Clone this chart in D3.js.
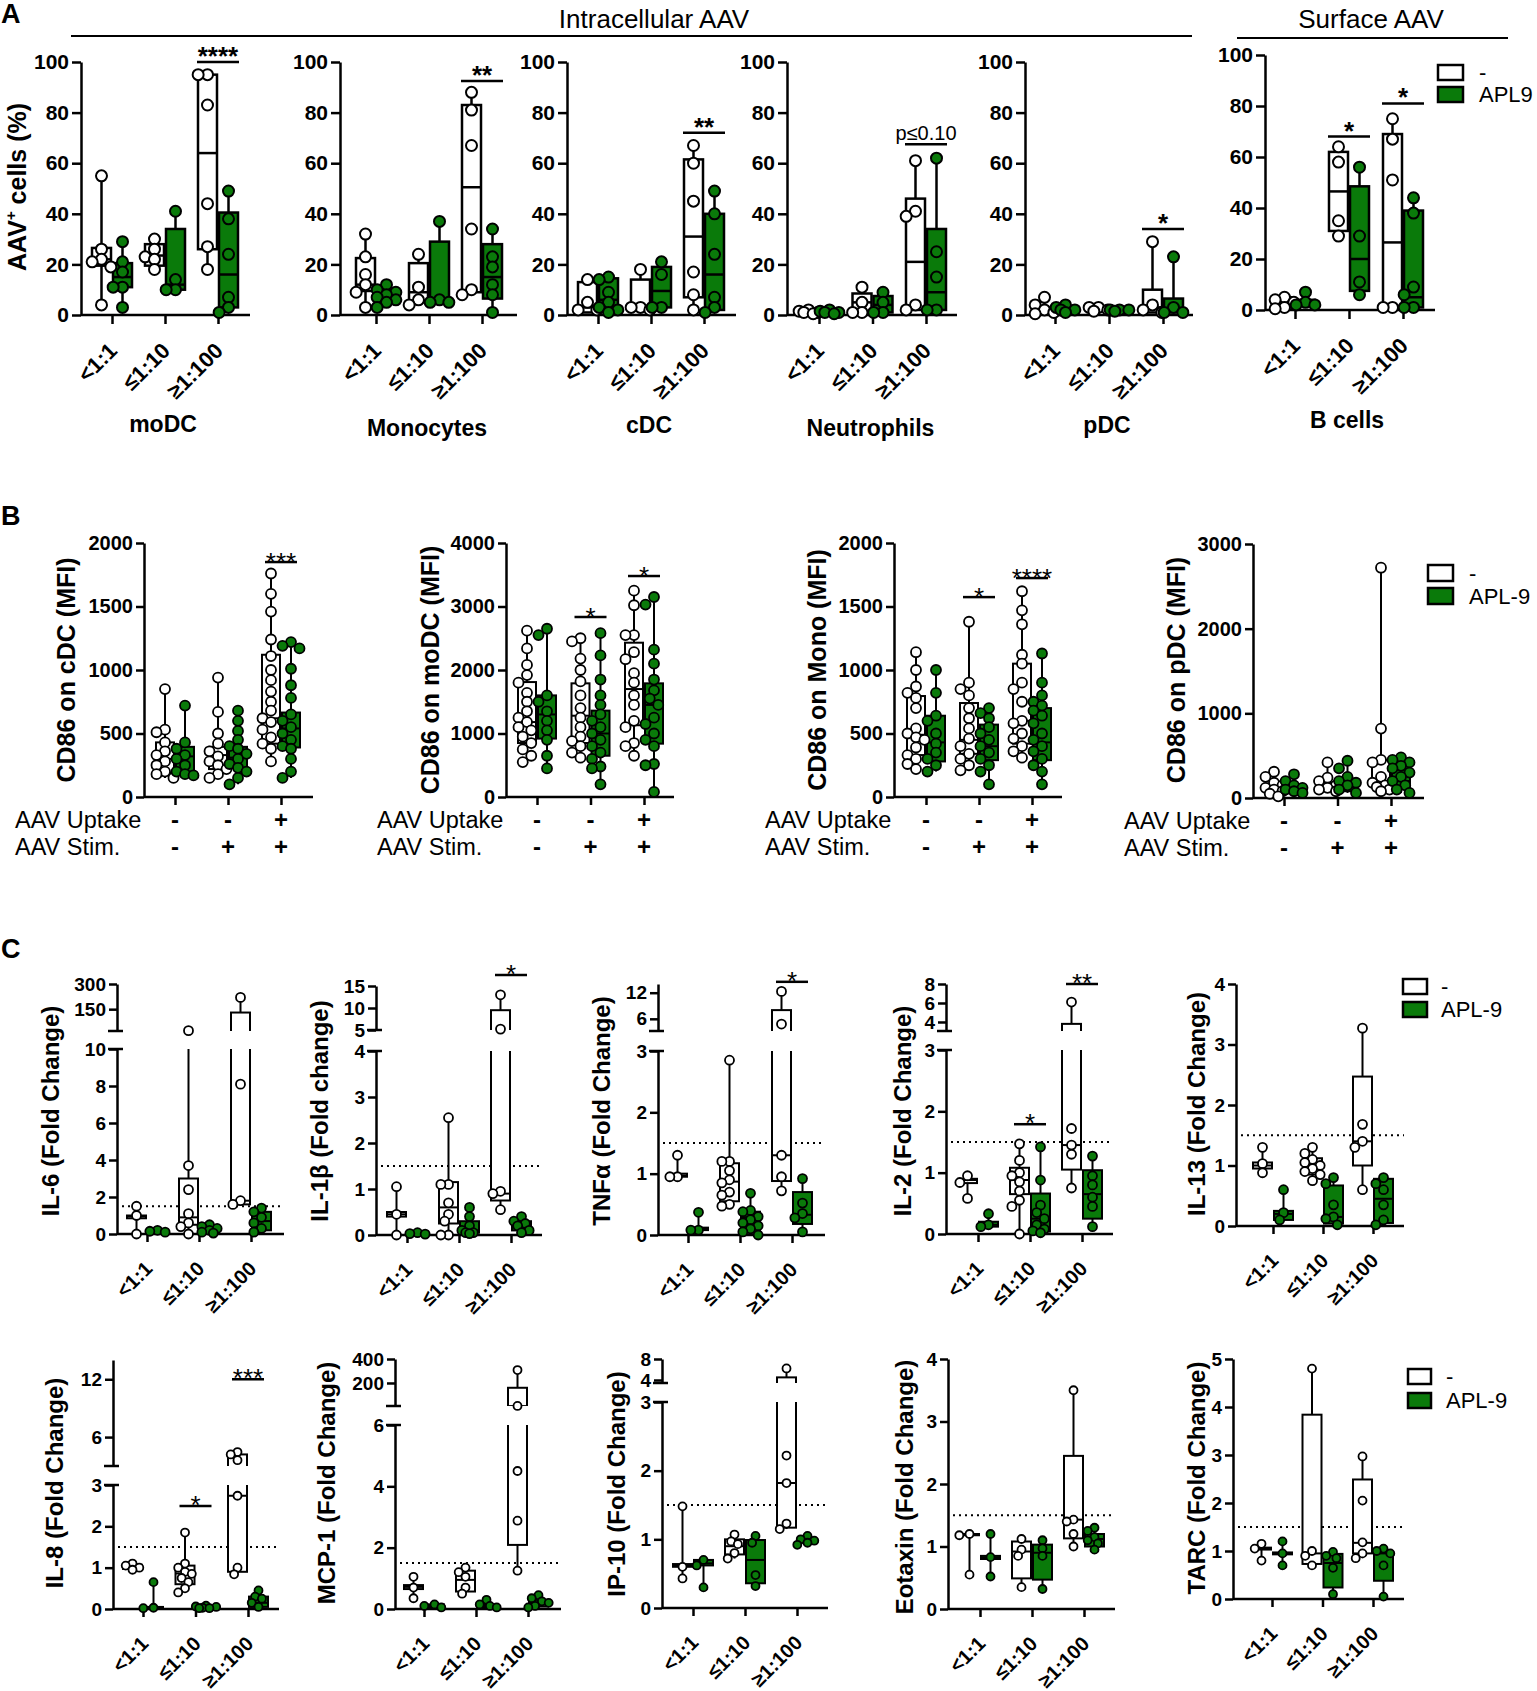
<!DOCTYPE html>
<html>
<head>
<meta charset="utf-8">
<script src="https://cdn.jsdelivr.net/npm/d3@7"></script>
<style>
  body { margin: 0; background: #fff; }
  svg { display: block; }
</style>
</head>
<body>
<svg id="fig" width="1537" height="1691"></svg>
<script>
// ---------- categories / labels ----------
const ratios = ["<1:1", "≤1:10", "≥1:100"];
const conds = ["c1", "c2", "c3"];
const uptake = ["-", "-", "+"];
const stim = ["-", "+", "+"];

// order in every *_box / *_pts array: [- <1:1, APL <1:1, - ≤1:10, APL ≤1:10, - ≥1:100, APL ≥1:100]
// box = [q1, median, q3]

// ---------- A: AAV+ cells (%) ----------
const modc_box = [[19.5, 22, 26.5], [11, 15, 20.5], [19.5, 23.5, 28], [10, 12, 34], [26, 64, 95], [3, 16, 40.5]];
const modc_pts = [[55, 26, 22, 21, 19, 4], [29, 21, 17, 11, 11, 3], [30, 26, 23, 22, 18], [41, 14, 10, 10], [95, 95, 83, 44, 27, 18], [49, 38, 24, 7, 3, 1]];
const mono_box = [[9.5, 12, 22.5], [5, 8, 10.5], [5, 9, 20.5], [5, 5.5, 29], [9, 50.5, 83], [6.5, 15, 28]];
const mono_pts = [[32, 23, 16, 12, 9, 3], [12, 10, 9, 8, 7, 6, 5, 3], [24, 11, 6, 4], [37, 6, 5, 5], [88, 81, 67, 34, 10, 8], [34, 23, 19, 12, 8, 1]];
const cdc_box = [[1, 3, 13], [2, 6, 14.5], [2, 3, 14], [3, 9.5, 19], [7, 31, 61.5], [2, 16, 40]];
const cdc_pts = [[14, 5, 2, 2], [15, 14, 9, 5, 3, 2, 1], [18, 3, 3, 2], [21, 16, 3, 3], [67, 60, 45, 17, 8, 2], [49, 40, 24, 7, 3, 1]];
const neut_box = [[0.5, 1, 1.5], [0.5, 1, 1.5], [1, 5, 8.5], [1, 4, 7.5], [2, 21, 46], [2, 9, 34]];
const neut_pts = [[2, 1.5, 1, 1, 0.5], [2, 1.5, 1, 1, 0.5], [11, 5, 1, 1], [9, 5, 1, 1], [61, 41, 39, 4, 2], [62, 25, 15, 2, 2]];
const pdc_box = [[0.5, 1.5, 3], [1, 2, 3], [1.5, 2, 3], [1.5, 2, 2.5], [1, 3, 10], [1, 2, 6.5]];
const pdc_pts = [[7, 4, 2, 1, 0.5], [4, 3, 2, 2, 1], [3, 3, 2, 1.5], [2, 2, 2, 1.5], [29, 4, 2, 1], [23, 3, 1, 1]];
const bcell_box = [[1, 3, 5], [2, 3, 4], [31, 46.5, 62], [7.5, 20, 48.5], [0.5, 26.5, 69], [1, 5, 39]];
const bcell_pts = [[5, 4, 3, 1, 0.5], [7, 3, 2, 2], [64, 58, 35, 29], [56, 29, 11, 6], [75, 67, 51, 1, 1], [44, 38, 9, 6, 1, 1]];

// ---------- B: CD86 MFI ----------
const cdcB_box = [[190, 300, 430], [200, 320, 395], [220, 330, 395], [230, 310, 395], [420, 620, 1120], [390, 540, 665]];
const cdcB_pts = [[850, 530, 510, 430, 360, 330, 280, 250, 200, 180, 150], [720, 430, 380, 330, 300, 250, 200, 180, 170],
  [940, 670, 500, 420, 360, 320, 280, 250, 220, 180, 150], [680, 600, 520, 450, 400, 380, 340, 300, 260, 230, 200, 150, 100],
  [1760, 1600, 1460, 1240, 1110, 1000, 920, 830, 750, 680, 620, 590, 530, 470, 420, 380, 280],
  [1220, 1190, 1170, 1010, 880, 780, 650, 600, 550, 500, 450, 400, 380, 300, 200, 150]];
const modcB_box = [[850, 1180, 1810], [920, 1300, 1600], [850, 1280, 1790], [650, 1000, 1360], [1130, 1700, 2430], [840, 1450, 1790]];
const modcB_pts = [[2620, 2340, 2080, 1920, 1800, 1640, 1500, 1350, 1250, 1180, 1100, 1050, 950, 850, 750, 650, 550],
  [2650, 2550, 1600, 1500, 1350, 1200, 1050, 900, 650, 450],
  [2500, 2450, 2180, 2000, 1820, 1600, 1400, 1250, 1100, 950, 880, 800, 700, 620],
  [2580, 2230, 1850, 1600, 1450, 1300, 1200, 1100, 1000, 900, 800, 700, 600, 480, 450, 200],
  [3250, 3020, 2550, 2550, 2280, 2170, 1950, 1800, 1600, 1450, 1200, 1100, 850, 800, 650],
  [3150, 3030, 2320, 2100, 1850, 1680, 1550, 1450, 1250, 1150, 1000, 900, 800, 520, 500, 80]];
const monoB_box = [[330, 490, 795], [280, 430, 640], [340, 450, 740], [290, 400, 570], [420, 600, 1050], [290, 430, 700]];
const monoB_pts = [[1140, 1000, 870, 820, 780, 700, 540, 500, 470, 450, 390, 330, 300, 260, 220],
  [1000, 820, 640, 600, 500, 420, 350, 300, 250, 200],
  [1380, 900, 850, 800, 700, 620, 540, 460, 400, 340, 300, 250, 210],
  [700, 660, 620, 550, 500, 450, 400, 350, 300, 250, 200, 100],
  [1620, 1470, 1360, 1120, 1050, 900, 850, 750, 600, 580, 500, 460, 400, 360, 310],
  [1130, 900, 800, 750, 720, 680, 640, 580, 500, 450, 400, 360, 300, 250, 200, 100]];
const pdcB_box = [[60, 110, 170], [70, 110, 150], [80, 110, 180], [80, 130, 230], [150, 200, 450], [110, 200, 390]];
const pdcB_pts = [[310, 250, 180, 150, 120, 100, 80, 50, 20], [280, 200, 150, 120, 100, 80, 60],
  [420, 240, 200, 150, 120, 100, 80], [440, 350, 250, 200, 180, 150, 100, 60],
  [2720, 820, 450, 420, 250, 180, 150, 130, 100, 80], [480, 450, 420, 380, 350, 300, 250, 200, 150, 100, 60]];

// ---------- C: cytokines (fold change) ----------
const il6_box = [[0.85, 0.95, 1.0], [0.1, 0.15, 0.2], [0.5, 0.9, 3.0], [0.1, 0.2, 0.35], [1.6, 1.8, 130], [0.2, 0.7, 1.2]];
const il6_pts = [[1.5, 1.0, 0], [0.2, 0.15, 0.1], [22, 3.7, 2.4, 1.1, 0.6, 0.4, 0], [0.5, 0.4, 0.3, 0.2, 0.1, 0.05], [220, 8.1, 1.8, 1.6], [1.4, 1.2, 0.9, 0.6, 0.3, 0.1]];
const il1b_box = [[0.4, 0.45, 0.5], [0.02, 0.03, 0.05], [0.25, 0.6, 1.15], [0.05, 0.1, 0.3], [0.75, 0.9, 9.5], [0.1, 0.2, 0.3]];
const il1b_pts = [[1.05, 0.45, 0], [0.05, 0.03, 0.02], [2.55, 1.1, 1.1, 0.7, 0.45, 0.3, 0, 0], [0.6, 0.4, 0.2, 0.1, 0.05, 0.05, 0.03], [13, 5.2, 0.95, 0.9, 0.55], [0.4, 0.3, 0.25, 0.2, 0.1, 0.05]];
const tnf_box = [[0.95, 0.97, 1.0], [0.08, 0.1, 0.12], [0.55, 0.87, 1.17], [0.05, 0.29, 0.38], [0.88, 1.3, 8], [0.18, 0.33, 0.7]];
const tnf_pts = [[1.3, 0.95, 0.95], [0.37, 0.08, 0.08], [2.85, 1.2, 1.2, 1.05, 0.9, 0.85, 0.7, 0.65, 0.5, 0.47], [0.68, 0.4, 0.38, 0.3, 0.25, 0.2, 0.15, 0.1, 0.05, 0], [12.3, 4.8, 1.3, 0.95, 0.72], [0.92, 0.52, 0.35, 0.28, 0.05]];
const il2_box = [[0.83, 0.88, 0.9], [0.12, 0.15, 0.2], [0.65, 0.88, 1.08], [0.04, 0.25, 0.66], [1.05, 1.45, 3.8], [0.25, 0.65, 1.04]];
const il2_pts = [[0.95, 0.84, 0.58], [0.33, 0.15, 0.12], [1.47, 1.2, 1.0, 0.95, 0.85, 0.7, 0.55, 0.45, 0], [1.42, 0.88, 0.47, 0.35, 0.25, 0.15, 0.08, 0.05, 0.02], [6.1, 1.72, 1.45, 1.3, 0.75], [1.27, 0.95, 0.8, 0.6, 0.45, 0.12]];
const il13_box = [[0.95, 1.0, 1.05], [0.1, 0.2, 0.25], [0.85, 1.0, 1.12], [0.04, 0.15, 0.67], [1.0, 1.4, 2.47], [0.05, 0.45, 0.78]];
const il13_pts = [[1.3, 1.03, 0.88], [0.6, 0.22, 0.1], [1.3, 1.2, 1.1, 1.05, 1.0, 0.95, 0.9, 0.85, 0.75], [0.8, 0.7, 0.35, 0.15, 0.12, 0.02], [3.27, 1.68, 1.4, 1.3, 0.6], [0.8, 0.7, 0.6, 0.35, 0.1, 0.02]];
const il8_box = [[0.97, 1.02, 1.07], [0.02, 0.03, 0.05], [0.6, 0.86, 1.05], [0.02, 0.03, 0.05], [0.9, 2.74, 4.2], [0.05, 0.15, 0.3]];
const il8_pts = [[1.1, 1.05, 1.0, 0.95], [0.65, 0.03, 0.02], [1.85, 1.1, 1.0, 0.9, 0.85, 0.75, 0.65, 0.5, 0.4], [0.08, 0.06, 0.05, 0.03, 0.02, 0.02], [4.45, 4.2, 3.6, 2.74, 1.0, 0.84], [0.45, 0.3, 0.25, 0.15, 0.05]];
const mcp1_box = [[0.65, 0.72, 0.78], [0.05, 0.1, 0.15], [0.57, 0.95, 1.25], [0.05, 0.1, 0.15], [2.09, 7, 160], [0.08, 0.2, 0.3]];
const mcp1_pts = [[1.05, 0.7, 0.35], [0.15, 0.1, 0.05], [1.35, 1.2, 1.05, 0.7, 0.5], [0.3, 0.15, 0.1, 0.05], [308, 8.5, 4.5, 2.88, 1.25], [0.45, 0.35, 0.25, 0.2, 0.1, 0.05]];
const ip10_box = [[0.6, 0.62, 0.64], [0.62, 0.65, 0.7], [0.78, 0.9, 1.0], [0.36, 0.7, 0.99], [1.17, 1.82, 4.5], [0.95, 0.98, 1.0]];
const ip10_pts = [[1.48, 0.6, 0.43], [0.7, 0.62, 0.3], [1.07, 0.97, 0.93, 0.8, 0.72], [1.05, 0.95, 0.48, 0.32], [6.2, 2.22, 1.82, 1.23, 1.15], [1.05, 1.0, 0.98, 0.95, 0.92]];
const eot_box = [[1.18, 1.19, 1.2], [0.8, 0.82, 0.85], [0.49, 0.92, 1.08], [0.47, 0.9, 1.03], [1.13, 1.43, 2.45], [1.0, 1.12, 1.2]];
const eot_pts = [[1.2, 1.18, 0.55], [1.2, 0.83, 0.52], [1.12, 0.95, 0.85, 0.35], [1.1, 0.97, 0.85, 0.32], [3.5, 1.43, 1.4, 1.2, 1.0], [1.3, 1.25, 1.15, 1.1, 1.05, 0.95]];
const tarc_box = [[1.03, 1.05, 1.07], [0.93, 0.95, 0.97], [0.73, 0.95, 3.84], [0.24, 0.75, 0.94], [0.95, 1.17, 2.49], [0.38, 0.95, 0.99]];
const tarc_pts = [[1.15, 1.05, 0.8], [1.2, 0.95, 0.7], [4.8, 1.0, 0.9, 0.7], [0.98, 0.9, 0.85, 0.65, 0.1], [2.97, 2.05, 1.18, 0.95, 0.85], [1.05, 1.0, 0.95, 0.7, 0.05]];

// significance: [category index, bar value, label]
const modc_sig = [[2, 100, "****"]];
const mono_sig = [[2, 92.5, "**"]];
const cdc_sig = [[2, 72, "**"]];
const neut_sig = [[2, 67.5, "p≤0.10"]];
const pdc_sig = [[2, 34, "*"]];
const bcell_sig = [[1, 68, "*"], [2, 81, "*"]];
const cdcB_sig = [[2, 1850, "***"]];
const modcB_sig = [[1, 2835, "*"], [2, 3480, "*"]];
const monoB_sig = [[1, 1574, "*"], [2, 1724, "****"]];
const il1b_sig = [[2, 17.5, "*"]];
const tnf_sig = [[2, 14.5, "*"]];
const il2_sig = [[1, 1.79, "*"], [2, 8.0, "**"]];
const il8_sig = [[1, 2.49, "*"], [2, 12, "***"]];

const threshold = 1.5;

// ---------- drawing ----------
const FONT = "'Liberation Sans', Arial, Helvetica, sans-serif";
const GREEN = "#0a7a0a";
const svg = d3.select("#fig").attr("font-family", FONT);

const styleA = { tick: 9, axisW: 2.5, tickFont: 21, catFont: 22, labDx: 6, labDy: 37, bw: 19, r: 5.5, ptW: 2, boxW: 2.5, sigW: 21, starFont: 26, starBold: true, starDy: 3 };
const styleB = { tick: 8, axisW: 2.5, tickFont: 20, bw: 18, r: 5, ptW: 1.8, boxW: 2, sigW: 16, starFont: 26, starBold: false, starDy: 9 };
const styleC = { tick: 8, axisW: 2.5, tickFont: 19, catFont: 20, labDx: 6, labDy: 36, bw: 19, r: 4.5, ptW: 1.8, boxW: 2, sigW: 16, starFont: 26, starBold: false, starDy: 8 };
const styleC2 = Object.assign({}, styleC, { r: 4 });

function styleAxis(ax, st) {
  ax.attr("font-family", FONT).attr("font-size", st.tickFont).attr("font-weight", "bold");
  ax.select(".domain").attr("stroke", "#000").attr("stroke-width", st.axisW);
  ax.selectAll(".tick line").attr("stroke", "#000").attr("stroke-width", st.axisW);
  ax.selectAll(".tick text").attr("fill", "#000");
}

// simple deterministic beeswarm inside the box width
function swarm(vals, yf, r, maxOff) {
  const items = vals.map(v => ({ v, y: yf(v) })).sort((a, b) => a.y - b.y);
  const step = r * 0.85;
  const cand = [0];
  for (let k = 1; k <= 8; k++) cand.push(-k * step, k * step);
  const placed = [];
  items.forEach(o => {
    let best = 0, bestD = -1;
    for (const dx of cand) {
      if (Math.abs(dx) > maxOff) continue;
      const dmin = placed.length ? d3.min(placed, q => Math.hypot(q.dx - dx, q.y - o.y)) : Infinity;
      if (dmin >= 1.75 * r) { best = dx; bestD = Infinity; break; }
      if (dmin > bestD) { bestD = dmin; best = dx; }
    }
    o.dx = best;
    placed.push(o);
  });
  return items;
}

let clipId = 0;
function drawPanel(p) {
  const st = p.style;
  const g = svg.append("g");
  const x = d3.scalePoint().domain(p.cats).range([p.x0 + p.t0, p.x0 + p.t0 + 2 * p.step]);
  const segs = p.segs.map(s => Object.assign({}, s, { y: d3.scaleLinear().domain(s.domain).range(s.range) }));
  const low = segs[0], up = segs[1];
  const yOf = v => (up && v > low.domain[1]) ? up.y(v) : low.y(v);
  const y0 = low.range[0];

  // y axis (one piece per segment)
  segs.forEach(s => {
    const ax = g.append("g").attr("transform", `translate(${p.x0},0)`)
      .call(d3.axisLeft(s.y).tickValues(s.ticks).tickFormat(d => String(d))
        .tickSize(st.tick).tickSizeOuter(0).tickPadding(3));
    styleAxis(ax, st);
  });
  if (up) {
    [low.range[1], up.range[0]].forEach(yy => {
      g.append("line").attr("x1", p.x0 - 9).attr("x2", p.x0 + 6).attr("y1", yy).attr("y2", yy)
        .attr("stroke", "#000").attr("stroke-width", st.axisW);
    });
  }

  // x axis
  const xa = g.append("g").attr("transform", `translate(0,${y0})`)
    .call(d3.axisBottom(x).tickSize(st.tick).tickSizeOuter(0));
  xa.select(".domain").attr("d", `M${p.x0},0H${p.xEnd}`);
  styleAxis(xa, st);
  if (p.rotLabels) {
    xa.selectAll(".tick text").attr("x", 0).attr("y", 0).attr("dy", 0)
      .attr("text-anchor", "end").attr("font-size", st.catFont)
      .attr("transform", `translate(${st.labDx},${st.labDy}) rotate(-45)`);
  } else {
    xa.selectAll(".tick text").remove();
  }

  // threshold line
  if (p.dotted) {
    g.append("line").attr("x1", p.x0 + 5).attr("x2", p.xEnd).attr("y1", yOf(threshold)).attr("y2", yOf(threshold))
      .attr("stroke", "#000").attr("stroke-width", 2).attr("stroke-dasharray", "2,4");
  }

  const centerOf = i => x(p.cats[Math.floor(i / 2)]) + (i % 2 ? 1 + st.bw / 2 : -1 - st.bw / 2);

  // boxes + whiskers, clipped to each axis segment
  segs.forEach((s, k) => {
    const id = "clip" + (clipId++);
    const top = (up && k === 0) ? s.range[1] : s.range[1] - 60;
    const bottom = (k === 1) ? s.range[0] : s.range[0] + 3;
    g.append("clipPath").attr("id", id).append("rect")
      .attr("x", p.x0).attr("y", top).attr("width", p.xEnd - p.x0 + 20).attr("height", bottom - top);
    const cg = g.append("g").attr("clip-path", `url(#${id})`);
    p.box.forEach((b, i) => {
      const cx = centerOf(i);
      const ext = d3.extent(p.pts[i]);
      // skip parts that lie completely in the other segment
      if (k === 1 && ext[1] <= low.domain[1] && b[2] <= low.domain[1]) return;
      const line = (ya, yb) => cg.append("line").attr("x1", cx).attr("x2", cx).attr("y1", ya).attr("y2", yb)
        .attr("stroke", "#000").attr("stroke-width", st.boxW);
      line(s.y(ext[0]), s.y(b[0]));
      line(s.y(b[2]), s.y(ext[1]));
      cg.append("rect").attr("x", cx - st.bw / 2).attr("y", s.y(b[2]))
        .attr("width", st.bw).attr("height", Math.max(0, s.y(b[0]) - s.y(b[2])))
        .attr("fill", i % 2 ? GREEN : "#fff").attr("stroke", "#000").attr("stroke-width", st.boxW);
      cg.append("line").attr("x1", cx - st.bw / 2).attr("x2", cx + st.bw / 2)
        .attr("y1", s.y(b[1])).attr("y2", s.y(b[1])).attr("stroke", "#000").attr("stroke-width", st.boxW);
    });
  });

  // points
  p.pts.forEach((vals, i) => {
    const cx = centerOf(i);
    const items = swarm(vals, yOf, st.r, st.bw / 2 + 1);
    g.append("g").selectAll("circle").data(items).join("circle")
      .attr("cx", d => cx + d.dx).attr("cy", d => d.y).attr("r", st.r)
      .attr("fill", i % 2 ? GREEN : "#fff").attr("stroke", "#000").attr("stroke-width", st.ptW);
  });

  // significance bars
  (p.sig || []).forEach(([ci, v, label]) => {
    const cx = x(p.cats[ci]);
    const yy = yOf(v);
    g.append("line").attr("x1", cx - st.sigW).attr("x2", cx + st.sigW).attr("y1", yy).attr("y2", yy)
      .attr("stroke", "#000").attr("stroke-width", 2.5);
    const isP = label[0] === "p";
    g.append("text").attr("x", cx).attr("y", isP ? yy - 4 : yy + st.starDy)
      .attr("text-anchor", "middle")
      .attr("font-size", isP ? 20 : st.starFont)
      .attr("font-weight", (!isP && st.starBold) ? "bold" : "normal")
      .text(label);
  });

  // y label
  if (p.ylab) {
    const t = g.append("text").attr("transform", `translate(${p.ylabX},${p.ylabY}) rotate(-90)`)
      .attr("text-anchor", "middle").attr("dy", "0.35em")
      .attr("font-size", p.ylabSize).attr("font-weight", "bold");
    if (Array.isArray(p.ylab)) {
      t.append("tspan").text(p.ylab[0]);
      t.append("tspan").attr("font-size", p.ylabSize * 0.6).attr("dy", -10).text(p.ylab[1]);
      t.append("tspan").attr("dy", 10).text(p.ylab[2]);
    } else t.text(p.ylab);
  }

  // panel title
  if (p.title) {
    g.append("text").attr("x", x(p.cats[1]) - 2).attr("y", p.titleY)
      .attr("text-anchor", "middle").attr("font-size", 23).attr("font-weight", "bold").text(p.title);
  }

  // AAV uptake / stim rows (panel B)
  if (p.rows) {
    [["AAV Uptake", uptake, 31], ["AAV Stim.", stim, 58]].forEach(([lab, signs, dy]) => {
      g.append("text").attr("x", p.x0 - 129).attr("y", y0 + dy).attr("font-size", 23.5).text(lab);
      g.selectAll(null).data(p.cats).join("text")
        .attr("x", (d, i) => x(d)).attr("y", y0 + dy).attr("text-anchor", "middle")
        .attr("font-size", 24).attr("font-weight", "bold").text((d, i) => signs[i]);
    });
  }
}

function legend(x0, y1, y2, w, h, tx, label2) {
  const g = svg.append("g");
  [[y1, "#fff", "-"], [y2, GREEN, label2]].forEach(([yy, fill, lab]) => {
    g.append("rect").attr("x", x0).attr("y", yy).attr("width", w).attr("height", h)
      .attr("fill", fill).attr("stroke", "#000").attr("stroke-width", 2.5);
    g.append("text").attr("x", tx).attr("y", yy + h).attr("font-size", 22).text(lab);
  });
}

// ---------- panel A ----------
const segA = [{ domain: [0, 100], range: [315, 62], ticks: [0, 20, 40, 60, 80, 100] }];
drawPanel({ style: styleA, cats: ratios, x0: 81, t0: 31, step: 53, xEnd: 250, segs: segA, box: modc_box, pts: modc_pts, sig: modc_sig,
  rotLabels: true, title: "moDC", titleY: 432, ylab: ["AAV", "+", " cells (%)"], ylabX: 17, ylabY: 187, ylabSize: 25 });
drawPanel({ style: styleA, cats: ratios, x0: 340, t0: 36, step: 53, xEnd: 517, segs: segA, box: mono_box, pts: mono_pts, sig: mono_sig,
  rotLabels: true, title: "Monocytes", titleY: 436 });
drawPanel({ style: styleA, cats: ratios, x0: 567, t0: 31, step: 53, xEnd: 736, segs: segA, box: cdc_box, pts: cdc_pts, sig: cdc_sig,
  rotLabels: true, title: "cDC", titleY: 433 });
drawPanel({ style: styleA, cats: ratios, x0: 787, t0: 32, step: 53.5, xEnd: 957, segs: segA, box: neut_box, pts: neut_pts, sig: neut_sig,
  rotLabels: true, title: "Neutrophils", titleY: 436 });
drawPanel({ style: styleA, cats: ratios, x0: 1025, t0: 30, step: 54, xEnd: 1193, segs: segA, box: pdc_box, pts: pdc_pts, sig: pdc_sig,
  rotLabels: true, title: "pDC", titleY: 433 });
drawPanel({ style: styleA, cats: ratios, x0: 1265, t0: 30, step: 54, xEnd: 1435,
  segs: [{ domain: [0, 100], range: [310, 55], ticks: [0, 20, 40, 60, 80, 100] }], box: bcell_box, pts: bcell_pts, sig: bcell_sig,
  rotLabels: true, title: "B cells", titleY: 428 });
legend(1438, 65, 87, 25, 15, 1479, "APL9");

// headers
svg.append("line").attr("x1", 71).attr("x2", 1192).attr("y1", 36).attr("y2", 36).attr("stroke", "#000").attr("stroke-width", 2);
svg.append("text").attr("x", 654).attr("y", 28).attr("text-anchor", "middle").attr("font-size", 26).text("Intracellular AAV");
svg.append("line").attr("x1", 1237).attr("x2", 1508).attr("y1", 38).attr("y2", 38).attr("stroke", "#000").attr("stroke-width", 2);
svg.append("text").attr("x", 1371).attr("y", 28).attr("text-anchor", "middle").attr("font-size", 26).text("Surface AAV");

// ---------- panel B ----------
drawPanel({ style: styleB, cats: conds, x0: 144, t0: 31, step: 53, xEnd: 313,
  segs: [{ domain: [0, 2000], range: [797, 543], ticks: [0, 500, 1000, 1500, 2000] }],
  box: cdcB_box, pts: cdcB_pts, sig: cdcB_sig, rows: true, ylab: "CD86 on cDC (MFI)", ylabX: 66, ylabY: 670, ylabSize: 25 });
drawPanel({ style: styleB, cats: conds, x0: 506, t0: 31, step: 53.5, xEnd: 674,
  segs: [{ domain: [0, 4000], range: [797, 543], ticks: [0, 1000, 2000, 3000, 4000] }],
  box: modcB_box, pts: modcB_pts, sig: modcB_sig, rows: true, ylab: "CD86 on moDC (MFI)", ylabX: 430, ylabY: 670, ylabSize: 25 });
drawPanel({ style: styleB, cats: conds, x0: 894, t0: 32, step: 53, xEnd: 1062,
  segs: [{ domain: [0, 2000], range: [797, 543], ticks: [0, 500, 1000, 1500, 2000] }],
  box: monoB_box, pts: monoB_pts, sig: monoB_sig, rows: true, ylab: "CD86 on Mono (MFI)", ylabX: 817, ylabY: 670, ylabSize: 25 });
drawPanel({ style: styleB, cats: conds, x0: 1253, t0: 31, step: 53.5, xEnd: 1424,
  segs: [{ domain: [0, 3000], range: [798, 544], ticks: [0, 1000, 2000, 3000] }],
  box: pdcB_box, pts: pdcB_pts, rows: true, ylab: "CD86 on pDC (MFI)", ylabX: 1176, ylabY: 670, ylabSize: 25 });
legend(1428, 565, 588, 25, 16, 1469, "APL-9");

// ---------- panel C, row 1 ----------
drawPanel({ style: styleC, cats: ratios, x0: 117, t0: 30, step: 52, xEnd: 284, dotted: true, rotLabels: true,
  segs: [{ domain: [0, 10], range: [1234, 1049], ticks: [0, 2, 4, 6, 8, 10] }, { domain: [20, 300], range: [1031, 984], ticks: [150, 300] }],
  box: il6_box, pts: il6_pts, ylab: "IL-6 (Fold Change)", ylabX: 51, ylabY: 1111, ylabSize: 24 });
drawPanel({ style: styleC, cats: ratios, x0: 376, t0: 31, step: 52, xEnd: 542, dotted: true, rotLabels: true,
  segs: [{ domain: [0, 4], range: [1235, 1051], ticks: [0, 1, 2, 3, 4] }, { domain: [5, 15], range: [1030, 986], ticks: [5, 10, 15] }],
  box: il1b_box, pts: il1b_pts, sig: il1b_sig, ylab: "IL-1β (Fold change)", ylabX: 320, ylabY: 1111, ylabSize: 24 });
drawPanel({ style: styleC, cats: ratios, x0: 658, t0: 30, step: 52, xEnd: 825, dotted: true, rotLabels: true,
  segs: [{ domain: [0, 3], range: [1235, 1051], ticks: [0, 1, 2, 3] }, { domain: [3.2, 14], range: [1031, 984], ticks: [6, 12] }],
  box: tnf_box, pts: tnf_pts, sig: tnf_sig, ylab: "TNFα (Fold Change)", ylabX: 602, ylabY: 1111, ylabSize: 24 });
drawPanel({ style: styleC, cats: ratios, x0: 946, t0: 32, step: 52, xEnd: 1113, dotted: true, rotLabels: true,
  segs: [{ domain: [0, 3], range: [1234, 1050], ticks: [0, 1, 2, 3] }, { domain: [3.05, 8], range: [1031, 984], ticks: [4, 6, 8] }],
  box: il2_box, pts: il2_pts, sig: il2_sig, ylab: "IL-2 (Fold Change)", ylabX: 903, ylabY: 1111, ylabSize: 24 });
drawPanel({ style: styleC, cats: ratios, x0: 1236, t0: 37, step: 50, xEnd: 1404, dotted: true, rotLabels: true,
  segs: [{ domain: [0, 4], range: [1226, 984], ticks: [0, 1, 2, 3, 4] }],
  box: il13_box, pts: il13_pts, ylab: "IL-13 (Fold Change)", ylabX: 1197, ylabY: 1104, ylabSize: 24 });
legend(1403, 979, 1002, 24, 15, 1441, "APL-9");

// ---------- panel C, row 2 ----------
drawPanel({ style: styleC2, cats: ratios, x0: 113, t0: 30, step: 52.5, xEnd: 279, dotted: true, rotLabels: true,
  segs: [{ domain: [0, 3], range: [1609, 1485], ticks: [0, 1, 2, 3] }, { domain: [3, 14], range: [1466, 1360], ticks: [6, 12] }],
  box: il8_box, pts: il8_pts, sig: il8_sig, ylab: "IL-8 (Fold Change)", ylabX: 55, ylabY: 1483, ylabSize: 24 });
drawPanel({ style: styleC2, cats: ratios, x0: 395, t0: 29, step: 52, xEnd: 561, dotted: true, rotLabels: true,
  segs: [{ domain: [0, 6], range: [1609, 1425], ticks: [0, 2, 4, 6] }, { domain: [8, 400], range: [1406, 1359], ticks: [200, 400] }],
  box: mcp1_box, pts: mcp1_pts, ylab: "MCP-1 (Fold Change)", ylabX: 327, ylabY: 1483, ylabSize: 24 });
drawPanel({ style: styleC2, cats: ratios, x0: 662, t0: 31, step: 52, xEnd: 828, dotted: true, rotLabels: true,
  segs: [{ domain: [0, 3], range: [1608, 1402], ticks: [0, 1, 2, 3] }, { domain: [3.43, 8], range: [1383, 1359], ticks: [4, 8] }],
  box: ip10_box, pts: ip10_pts, ylab: "IP-10 (Fold Change)", ylabX: 617, ylabY: 1484, ylabSize: 24 });
drawPanel({ style: styleC2, cats: ratios, x0: 948, t0: 32, step: 52, xEnd: 1115, dotted: true, rotLabels: true,
  segs: [{ domain: [0, 4], range: [1609, 1359], ticks: [0, 1, 2, 3, 4] }],
  box: eot_box, pts: eot_pts, ylab: "Eotaxin (Fold Change)", ylabX: 905, ylabY: 1487, ylabSize: 24 });
drawPanel({ style: styleC2, cats: ratios, x0: 1233, t0: 39, step: 50.5, xEnd: 1404, dotted: true, rotLabels: true,
  segs: [{ domain: [0, 5], range: [1599, 1359], ticks: [0, 1, 2, 3, 4, 5] }],
  box: tarc_box, pts: tarc_pts, ylab: "TARC (Fold Change)", ylabX: 1197, ylabY: 1478, ylabSize: 24 });
legend(1408, 1369, 1393, 23, 15, 1446, "APL-9");

// panel letters
[["A", 23], ["B", 525], ["C", 958]].forEach(([l, yy]) => {
  svg.append("text").attr("x", 1).attr("y", yy).attr("font-size", 27).attr("font-weight", "bold").text(l);
});
</script>
</body>
</html>
